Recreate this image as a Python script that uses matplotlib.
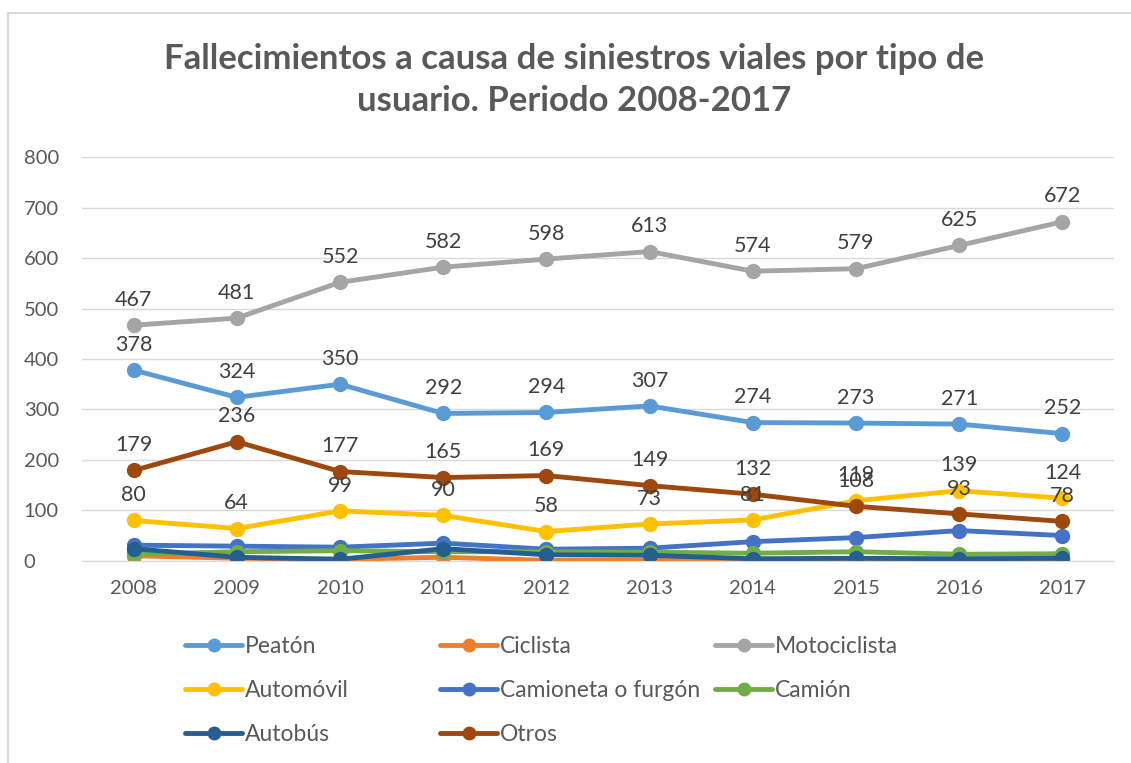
import matplotlib.pyplot as plt
from matplotlib.patches import Rectangle

plt.rcParams['font.family'] = ['Lato', 'DejaVu Sans']

# Datos
anios = ['2008', '2009', '2010', '2011', '2012', '2013', '2014', '2015', '2016', '2017']
peaton = [378, 324, 350, 292, 294, 307, 274, 273, 271, 252]
ciclista = [10, 5, 3, 7, 1, 1, 3, 3, 2, 4]
motociclista = [467, 481, 552, 582, 598, 613, 574, 579, 625, 672]
automovil = [80, 64, 99, 90, 58, 73, 81, 119, 139, 124]
camioneta = [31, 29, 27, 35, 23, 25, 38, 46, 60, 50]
camion = [13, 18, 20, 18, 18, 17, 15, 18, 13, 14]
autobus = [24, 7, 3, 24, 12, 11, 4, 5, 4, 5]
otros = [179, 236, 177, 165, 169, 149, 132, 108, 93, 78]

series = [
    ('Peatón', peaton, '#5B9BD5', True),
    ('Ciclista', ciclista, '#ED7D31', False),
    ('Motociclista', motociclista, '#A5A5A5', True),
    ('Automóvil', automovil, '#FFC000', True),
    ('Camioneta o furgón', camioneta, '#4472C4', False),
    ('Camión', camion, '#70AD47', False),
    ('Autobús', autobus, '#255E91', False),
    ('Otros', otros, '#9E480E', True),
]

fig = plt.figure(figsize=(11.31, 7.63), dpi=100)
ax = fig.add_axes([0.0725, 0.265, 0.9125, 0.529])

x = range(len(anios))
lineas = {}
for nombre, valores, color, etiquetar in series:
    ln, = ax.plot(x, valores, color=color, linewidth=3.5, marker='o', markersize=10,
                  label=nombre, solid_capstyle='round')
    lineas[nombre] = ln
    if etiquetar:
        for xi, v in zip(x, valores):
            ax.annotate(str(v), (xi, v), xytext=(0, 11), textcoords='offset points',
                        ha='center', va='bottom', fontsize=15.5, color='#404040')

ax.set_xlim(-0.5, 9.5)
ax.set_ylim(0, 800)
ax.set_yticks(range(0, 801, 100))
ax.set_xticks(list(x))
ax.set_xticklabels(anios)
ax.tick_params(axis='both', length=0, labelsize=14.5, labelcolor='#595959')
ax.tick_params(axis='x', pad=14)
ax.tick_params(axis='y', pad=42)
ax.grid(axis='y', color='#D9D9D9', linewidth=1)
ax.set_axisbelow(True)
for lado in ['top', 'right', 'left']:
    ax.spines[lado].set_visible(False)
ax.spines['bottom'].set_color('#D9D9D9')
for lbl in ax.get_yticklabels():
    lbl.set_horizontalalignment('left')

fig.text(0.508, 0.895, 'Fallecimientos a causa de siniestros viales por tipo de\nusuario. Periodo 2008-2017',
         ha='center', va='center', fontsize=25, fontweight='bold', color='#595959',
         linespacing=1.4)

# Leyenda en tres columnas con posiciones fijas
columnas = [
    (185, ['Peatón', 'Automóvil', 'Autobús']),
    (440, ['Ciclista', 'Camioneta o furgón', 'Otros']),
    (715, ['Motociclista', 'Camión']),
]
for xpix, nombres in columnas:
    fig.legend([lineas[n] for n in nombres], nombres, loc='upper left',
               bbox_to_anchor=(xpix / 1131, 1 - 636 / 763), frameon=False, fontsize=16.5,
               labelcolor='#595959', handlelength=2.5, handletextpad=0.1,
               labelspacing=1.0, borderpad=0, borderaxespad=0, markerscale=0.9)

fig.patches.append(Rectangle((8 / 1131, -0.1), 1.2, 1 - 13 / 763 + 0.1,
                             transform=fig.transFigure, fill=False,
                             edgecolor='#D9D9D9', linewidth=1.5))

fig.savefig('out.png', dpi=100)
